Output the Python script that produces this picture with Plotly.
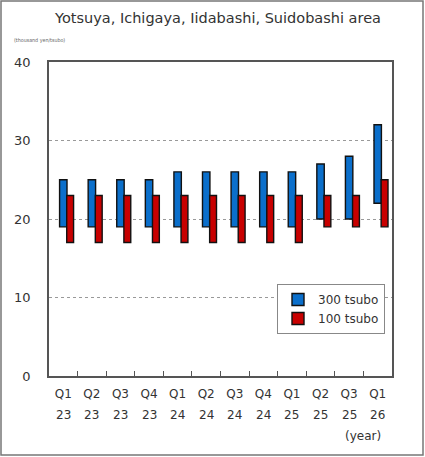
import plotly.graph_objects as go

quarters = ["Q1", "Q2", "Q3", "Q4", "Q1", "Q2", "Q3", "Q4", "Q1", "Q2", "Q3", "Q1"]
years = ["23", "23", "23", "23", "24", "24", "24", "24", "25", "25", "25", "26"]
categories = [f"{q} {y}" for q, y in zip(quarters, years)]

t300_low = [19, 19, 19, 19, 19, 19, 19, 19, 19, 20, 20, 22]
t300_high = [25, 25, 25, 25, 26, 26, 26, 26, 26, 27, 28, 32]
t100_low = [17, 17, 17, 17, 17, 17, 17, 17, 17, 19, 19, 19]
t100_high = [23, 23, 23, 23, 23, 23, 23, 23, 23, 23, 23, 25]

yticks = [0, 10, 20, 30, 40]

W, H = 425, 457
ML, MR, MT, MB = 49, 33, 62, 81
pw = W - ML - MR
ph = H - MT - MB

fig = go.Figure()
fig.add_trace(go.Bar(
    name="300 tsubo", x=categories,
    y=[h - l for h, l in zip(t300_high, t300_low)], base=t300_low,
    width=0.26, offset=-0.13,
    marker=dict(color="#0B6FCB", line=dict(color="#111111", width=1.4)),
))
fig.add_trace(go.Bar(
    name="100 tsubo", x=categories,
    y=[h - l for h, l in zip(t100_high, t100_low)], base=t100_low,
    width=0.24, offset=0.12,
    marker=dict(color="#C80000", line=dict(color="#111111", width=1.4)),
))

for c, yr in zip(categories, years):
    fig.add_annotation(x=c, xref="x", y=(MT + ph - 415) / ph, yref="paper", text=yr,
                       showarrow=False, font=dict(size=12, color="#333333",
                       family="DejaVu Sans"), yanchor="middle")

fig.add_annotation(x=(383 - ML) / pw, xref="paper", y=(MT + ph - 436) / ph, yref="paper",
                   text="(year)", showarrow=False, yanchor="middle",
                   font=dict(size=12, color="#333333", family="DejaVu Sans"))
fig.add_annotation(x=(12 - ML) / pw, xref="paper", y=(MT + ph - 41) / ph, yref="paper",
                   text="(thousand yen/tsubo)", showarrow=False, xanchor="left",
                   yanchor="middle",
                   font=dict(size=5.3, color="#666666", family="DejaVu Sans Condensed"))

# outer frame
fig.add_shape(type="rect", xref="paper", yref="paper",
              x0=(1 - ML) / pw, x1=(W - 2 - ML) / pw,
              y0=(MT + ph - (H - 2)) / ph, y1=(MT + ph - 1) / ph,
              line=dict(color="#777777", width=1.5))

fig.update_layout(
    template="none",
    width=W, height=H,
    margin=dict(l=ML, r=MR, t=MT, b=MB, autoexpand=False),
    paper_bgcolor="white", plot_bgcolor="white",
    barmode="overlay",
    title=dict(text="Yotsuya, Ichigaya, Iidabashi, Suidobashi area",
               x=(218) / W, xanchor="center", y=1 - 18 / H, yanchor="middle",
               font=dict(size=14.5, color="#333333", family="DejaVu Sans")),
    font=dict(family="DejaVu Sans", color="#333333", size=12),
    legend=dict(x=(385 - ML) / pw, xanchor="right", y=(MT + ph - 284) / ph, yanchor="top",
                bgcolor="white", bordercolor="#888888", borderwidth=1,
                font=dict(size=12, color="#333333"), traceorder="normal",
                itemwidth=30),
    showlegend=True,
)
fig.update_xaxes(
    type="category", tickmode="array", tickvals=categories, ticktext=quarters,
    tickson="boundaries", ticks="inside", ticklen=5, tickcolor="#555555",
    showgrid=False, showline=True, linecolor="#555555", linewidth=1.5, mirror=True,
    tickfont=dict(size=12, color="#333333"), ticklabelstandoff=6,
    range=[-0.5, 11.5], automargin=False,
)
fig.update_yaxes(
    range=[0, 40], tickvals=yticks, showgrid=True, gridcolor="#999999",
    griddash="dot", gridwidth=1, zeroline=False,
    showline=True, linecolor="#555555", linewidth=1.5, mirror=True,
    ticks="", tickfont=dict(size=13, color="#333333"), ticklabelstandoff=14,
    automargin=False,
)

fig.write_html("out.html", config={"displayModeBar": False},
               post_script="document.body.style.margin='0px';document.body.style.overflow='hidden';")
